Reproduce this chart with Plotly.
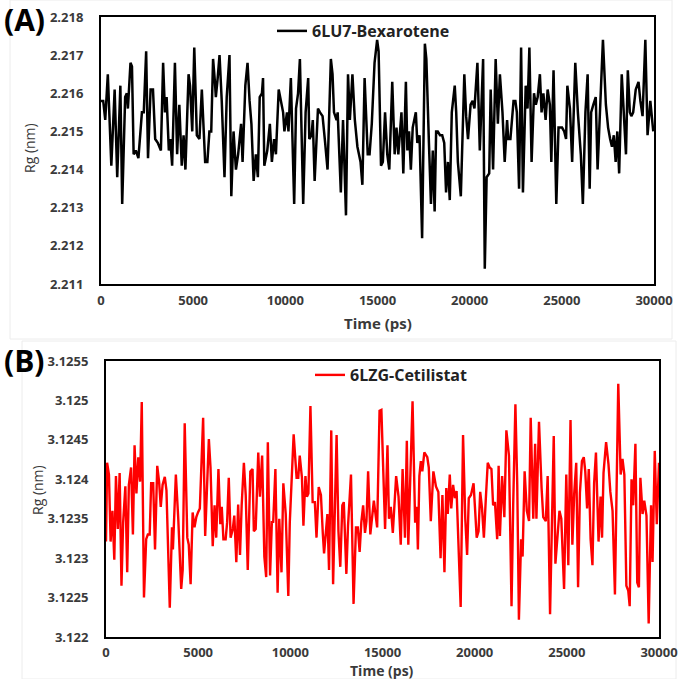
import plotly.graph_objects as go

# ---------------- Panel A : 6LU7-Bexarotene ----------------
time_a = [0, 120, 230, 370, 560, 740, 880, 1050, 1150, 1310, 1400, 1460, 1600, 1680, 1770, 1890, 2030, 2220, 2320,
          2450, 2550, 2690, 2820, 2940, 3080, 3250, 3370, 3470, 3560, 3680, 3760, 3860, 4010, 4130, 4250, 4380, 4480,
          4580, 4750, 4830, 4950, 5060, 5200, 5340, 5470, 5650, 5770, 5880, 5980, 6080, 6180, 6230, 6330, 6430, 6550,
          6700, 6820, 6970, 7070, 7190, 7320, 7440, 7600, 7680, 7830, 7950, 8060, 8160, 8280, 8400, 8510, 8610, 8730,
          8790, 8860, 9020, 9160, 9270, 9390, 9490, 9640, 9740, 9880, 9950, 10090, 10170, 10300, 10480, 10580, 10690,
          10790, 10970, 11100, 11240, 11300, 11420, 11490, 11590, 11770, 11880, 12020, 12160, 12290, 12470, 12560,
          12640, 12780, 12840, 12930, 13010, 13130, 13290, 13400, 13500, 13640, 13770, 13910, 14080, 14180, 14300,
          14470, 14570, 14690, 14840, 14980, 15060, 15190, 15290, 15410, 15530, 15640, 15800, 15930, 16030, 16130,
          16300, 16400, 16540, 16620, 16710, 16810, 16910, 17080, 17160, 17280, 17420, 17570, 17650, 17790, 17900,
          18000, 18100, 18180, 18270, 18390, 18510, 18620, 18720, 18820, 18920, 19030, 19190, 19270, 19360, 19520,
          19640, 19710, 19810, 19910, 20050, 20160, 20260, 20420, 20550, 20730, 20820, 20920, 21060, 21140, 21270,
          21410, 21530, 21640, 21780, 21900, 22030, 22090, 22210, 22380, 22480, 22560, 22680, 22790, 22890, 23040,
          23140, 23240, 23360, 23490, 23590, 23690, 23810, 23900, 24000, 24120, 24230, 24350, 24430, 24550, 24700,
          24820, 25010, 25130, 25230, 25300, 25440, 25560, 25730, 25870, 26030, 26140, 26280, 26400, 26510, 26590,
          26710, 26840, 26940, 27080, 27230, 27390, 27510, 27620, 27720, 27820, 27920, 28010, 28110, 28250, 28360,
          28480, 28580, 28690, 28770, 28870, 29010, 29160, 29260, 29380, 29530, 29650, 29800, 29960]
rg_a = [2.2158, 2.2158, 2.2153, 2.2165, 2.2141, 2.2161, 2.2138, 2.2162, 2.2131, 2.2159, 2.2160, 2.2156, 2.2168,
        2.2167, 2.2144, 2.2145, 2.2143, 2.2155, 2.2155, 2.2171, 2.2143, 2.2161, 2.2161, 2.2148, 2.2147, 2.2145,
        2.2168, 2.2155, 2.2159, 2.2145, 2.2148, 2.2141, 2.2168, 2.2144, 2.2157, 2.2141, 2.2149, 2.2140, 2.2165,
        2.2162, 2.2150, 2.2172, 2.2149, 2.2148, 2.2161, 2.2142, 2.2142, 2.2150, 2.2150, 2.2169, 2.2163, 2.2159,
        2.2164, 2.2170, 2.2158, 2.2138, 2.2159, 2.2170, 2.2133, 2.2150, 2.2140, 2.2144, 2.2152, 2.2142, 2.2162,
        2.2168, 2.2158, 2.2152, 2.2137, 2.2144, 2.2138, 2.2159, 2.2160, 2.2164, 2.2141, 2.2145, 2.2152, 2.2142,
        2.2148, 2.2144, 2.2161, 2.2158, 2.2155, 2.2150, 2.2155, 2.2150, 2.2164, 2.2131, 2.2156, 2.2160, 2.2169,
        2.2131, 2.2155, 2.2164, 2.2148, 2.2149, 2.2153, 2.2137, 2.2156, 2.2155, 2.2154, 2.2147, 2.2140, 2.2169,
        2.2165, 2.2155, 2.2153, 2.2155, 2.2142, 2.2134, 2.2153, 2.2128, 2.2165, 2.2153, 2.2165, 2.2153, 2.2146,
        2.2142, 2.2136, 2.2164, 2.2144, 2.2144, 2.2152, 2.2168, 2.2174, 2.2171, 2.2141, 2.2142, 2.2155, 2.2144,
        2.2140, 2.2163, 2.2144, 2.2151, 2.2144, 2.2155, 2.2139, 2.2163, 2.2145, 2.2150, 2.2140, 2.2151, 2.2155,
        2.2147, 2.2149, 2.2122, 2.2173, 2.2169, 2.2147, 2.2131, 2.2145, 2.2129, 2.2150, 2.2150, 2.2149, 2.2149,
        2.2147, 2.2134, 2.2142, 2.2132, 2.2155, 2.2162, 2.2155, 2.2142, 2.2133, 2.2152, 2.2165, 2.2154, 2.2148,
        2.2157, 2.2158, 2.2156, 2.2168, 2.2145, 2.2169, 2.2114, 2.2138, 2.2139, 2.2161, 2.2140, 2.2169, 2.2152,
        2.2165, 2.2155, 2.2142, 2.2153, 2.2148, 2.2148, 2.2158, 2.2158, 2.2155, 2.2135, 2.2172, 2.2134, 2.2162,
        2.2156, 2.2172, 2.2142, 2.2160, 2.2157, 2.2159, 2.2165, 2.2155, 2.2160, 2.2153, 2.2161, 2.2157, 2.2142,
        2.2166, 2.2131, 2.2151, 2.2151, 2.2150, 2.2148, 2.2162, 2.2156, 2.2142, 2.2168, 2.2155, 2.2144, 2.2131,
        2.2155, 2.2165, 2.2135, 2.2155, 2.2157, 2.2159, 2.2140, 2.2158, 2.2174, 2.2157, 2.2151, 2.2148, 2.2146,
        2.2149, 2.2142, 2.2150, 2.2139, 2.2165, 2.2154, 2.2144, 2.2166, 2.2155, 2.2154, 2.2155, 2.2161, 2.2163,
        2.2158, 2.2154, 2.2174, 2.2149, 2.2158, 2.2150]

# ---------------- Panel B : 6LZG-Cetilistat ----------------
time_b = [0, 60, 160, 250, 350, 450, 540, 640, 740, 840, 930, 1050, 1150, 1240, 1360, 1460, 1550, 1650, 1750, 1850,
          1940, 2060, 2180, 2270, 2370, 2450, 2560, 2660, 2780, 2880, 2970, 3070, 3190, 3280, 3460, 3580, 3630, 3790,
          3920, 4080, 4160, 4270, 4410, 4490, 4590, 4700, 4800, 4900, 4990, 5090, 5270, 5380, 5580, 5670, 5790, 5890,
          5980, 6100, 6200, 6280, 6370, 6490, 6570, 6660, 6760, 6880, 6960, 7070, 7170, 7270, 7360, 7480, 7580, 7690,
          7830, 7950, 8020, 8120, 8260, 8350, 8470, 8590, 8690, 8780, 8900, 9000, 9070, 9190, 9310, 9400, 9520, 9620,
          9750, 9890, 9970, 10070, 10180, 10340, 10430, 10510, 10630, 10710, 10820, 10900, 10980, 11090, 11210, 11330,
          11420, 11540, 11660, 11760, 11830, 11910, 12010, 12100, 12220, 12320, 12420, 12510, 12610, 12710, 12820,
          12900, 13040, 13130, 13290, 13430, 13560, 13660, 13760, 13850, 13950, 14050, 14130, 14220, 14340, 14420,
          14530, 14710, 14840, 14940, 15040, 15140, 15270, 15350, 15450, 15560, 15740, 15870, 15990, 16090, 16220,
          16320, 16400, 16480, 16630, 16770, 16860, 16920, 17000, 17080, 17160, 17270, 17430, 17510, 17620, 17760,
          17900, 18030, 18150, 18250, 18360, 18460, 18540, 18650, 18730, 18830, 18930, 19020, 19100, 19240, 19370,
          19490, 19590, 19680, 19800, 19940, 20010, 20110, 20210, 20300, 20400, 20500, 20600, 20710, 20810, 20910,
          21000, 21100, 21220, 21300, 21370, 21490, 21610, 21720, 21860, 22000, 22090, 22210, 22310, 22400, 22520,
          22600, 22710, 22830, 22950, 23040, 23180, 23280, 23350, 23490, 23630, 23720, 23860, 23960, 24090, 24190,
          24290, 24380, 24480, 24600, 24700, 24850, 24970, 25080, 25200, 25300, 25400, 25510, 25610, 25710, 25820,
          25920, 26000, 26100, 26190, 26290, 26390, 26480, 26580, 26720, 26830, 26910, 26990, 27130, 27260, 27360,
          27480, 27610, 27790, 27920, 28020, 28120, 28230, 28330, 28410, 28510, 28600, 28720, 28820, 28910, 28990,
          29110, 29200, 29320, 29440, 29570, 29650, 29770, 29880, 30000]
rg_b = [3.12321, 3.12421, 3.12406, 3.12321, 3.12360, 3.12298, 3.12404, 3.12337, 3.12408, 3.12265, 3.12345, 3.12391,
        3.12282, 3.12393, 3.12415, 3.12330, 3.12443, 3.12382, 3.12428, 3.12397, 3.12498, 3.12250, 3.12324, 3.12330,
        3.12330, 3.12395, 3.12395, 3.12311, 3.12417, 3.12397, 3.12365, 3.12393, 3.12403, 3.12386, 3.12237, 3.12339,
        3.12311, 3.12406, 3.12350, 3.12261, 3.12285, 3.12471, 3.12326, 3.12317, 3.12267, 3.12358, 3.12339, 3.12352,
        3.12358, 3.12363, 3.12478, 3.12328, 3.12451, 3.12415, 3.12315, 3.12367, 3.12326, 3.12413, 3.12343, 3.12365,
        3.12324, 3.12324, 3.12345, 3.12402, 3.12326, 3.12337, 3.12354, 3.12295, 3.12368, 3.12304, 3.12367, 3.12421,
        3.12380, 3.12285, 3.12410, 3.12413, 3.12334, 3.12337, 3.12434, 3.12378, 3.12430, 3.12302, 3.12276, 3.12447,
        3.12278, 3.12347, 3.12345, 3.12413, 3.12256, 3.12350, 3.12282, 3.12395, 3.12356, 3.12252, 3.12345, 3.12410,
        3.12457, 3.12402, 3.12402, 3.12430, 3.12402, 3.12341, 3.12404, 3.12378, 3.12382, 3.12493, 3.12371, 3.12371,
        3.12326, 3.12390, 3.12380, 3.12332, 3.12306, 3.12328, 3.12356, 3.12285, 3.12462, 3.12267, 3.12369, 3.12456,
        3.12334, 3.12289, 3.12367, 3.12371, 3.12280, 3.12341, 3.12406, 3.12242, 3.12339, 3.12339, 3.12308, 3.12345,
        3.12367, 3.12332, 3.12347, 3.12410, 3.12330, 3.12345, 3.12373, 3.12339, 3.12487, 3.12488, 3.12404, 3.12337,
        3.12443, 3.12350, 3.12365, 3.12332, 3.12404, 3.12378, 3.12317, 3.12413, 3.12326, 3.12449, 3.12317, 3.12384,
        3.12499, 3.12345, 3.12365, 3.12311, 3.12404, 3.12423, 3.12410, 3.12434, 3.12428, 3.12415, 3.12347, 3.12410,
        3.12391, 3.12384, 3.12300, 3.12380, 3.12282, 3.12389, 3.12356, 3.12406, 3.12363, 3.12393, 3.12376, 3.12385,
        3.12337, 3.12238, 3.12456, 3.12350, 3.12304, 3.12376, 3.12380, 3.12395, 3.12367, 3.12326, 3.12334, 3.12384,
        3.12363, 3.12326, 3.12373, 3.12421, 3.12415, 3.12413, 3.12367, 3.12371, 3.12324, 3.12417, 3.12328, 3.12404,
        3.12352, 3.12462, 3.12430, 3.12239, 3.12367, 3.12495, 3.12393, 3.12222, 3.12324, 3.12302, 3.12410, 3.12360,
        3.12347, 3.12478, 3.12350, 3.12445, 3.12350, 3.12473, 3.12389, 3.12352, 3.12347, 3.12404, 3.12229, 3.12337,
        3.12455, 3.12293, 3.12326, 3.12360, 3.12350, 3.12261, 3.12406, 3.12291, 3.12475, 3.12317, 3.12382, 3.12421,
        3.12263, 3.12383, 3.12423, 3.12428, 3.12410, 3.12363, 3.12413, 3.12324, 3.12291, 3.12395, 3.12434, 3.12321,
        3.12378, 3.12326, 3.12408, 3.12447, 3.12419, 3.12384, 3.12360, 3.12254, 3.12521, 3.12406, 3.12426, 3.12406,
        3.12265, 3.12259, 3.12239, 3.12400, 3.12367, 3.12445, 3.12269, 3.12263, 3.12402, 3.12356, 3.12373, 3.12354,
        3.12217, 3.12367, 3.12295, 3.12436, 3.12343, 3.12421]

x_ticks = [0, 5000, 10000, 15000, 20000, 25000, 30000]
x_ticktext = ["0", "5000", "10000", "15000", "20000", "25000", "30000"]
y_ticks_a = [2.211, 2.212, 2.213, 2.214, 2.215, 2.216, 2.217, 2.218]
y_ticktext_a = ["2.211", "2.212", "2.213", "2.214", "2.215", "2.216", "2.217", "2.218"]
y_ticks_b = [3.122, 3.1225, 3.123, 3.1235, 3.124, 3.1245, 3.125, 3.1255]
y_ticktext_b = ["3.122", "3.1225", "3.123", "3.1235", "3.124", "3.1245", "3.125", "3.1255"]

W, H = 684, 679
FONT = "Open Sans"
TICK_COLOR = "#3a3a3a"

fig = go.Figure()
fig.add_trace(go.Scatter(x=time_a, y=rg_a, mode="lines", name="6LU7-Bexarotene",
                         line=dict(color="black", width=2.5), xaxis="x", yaxis="y", legend="legend"))
fig.add_trace(go.Scatter(x=time_b, y=rg_b, mode="lines", name="6LZG-Cetilistat",
                         line=dict(color="#ff0000", width=2.4), xaxis="x2", yaxis="y2", legend="legend2"))

axis_common = dict(showgrid=False, zeroline=False, showline=True, linecolor="black", linewidth=2,
                   mirror=True, ticks="", automargin=False,
                   tickfont=dict(family=FONT, size=13, color=TICK_COLOR, weight="bold"))

# plot-area boxes in pixels
ax_l, ax_r, ax_t, ax_b = 101, 654, 17, 284
bx_l, bx_r, bx_t, bx_b = 106, 659, 361, 637

fig.update_layout(
    width=W, height=H, margin=dict(l=0, r=0, t=0, b=0, autoexpand=False),
    paper_bgcolor="white", plot_bgcolor="white",
    xaxis=dict(domain=[ax_l / W, ax_r / W], range=[0, 30000], tickvals=x_ticks, ticktext=x_ticktext,
               anchor="y", ticklabelstandoff=3, **axis_common),
    yaxis=dict(domain=[1 - ax_b / H, 1 - ax_t / H], range=[2.211, 2.218], tickvals=y_ticks_a,
               ticktext=y_ticktext_a, anchor="x", ticklabelstandoff=13, **axis_common),
    xaxis2=dict(domain=[bx_l / W, bx_r / W], range=[0, 30000], tickvals=x_ticks, ticktext=x_ticktext,
                anchor="y2", ticklabelstandoff=2, **axis_common),
    yaxis2=dict(domain=[1 - bx_b / H, 1 - bx_t / H], range=[3.122, 3.1255], tickvals=y_ticks_b,
                ticktext=y_ticktext_b, anchor="x2", ticklabelstandoff=13, **axis_common),
    legend=dict(x=272 / W, y=1 - 31 / H, xanchor="left", yanchor="middle",
                bgcolor="rgba(0,0,0,0)", font=dict(family=FONT, size=16, color="#222222", weight="bold"),
                itemwidth=30),
    legend2=dict(x=310 / W, y=1 - 375 / H, xanchor="left", yanchor="middle",
                 bgcolor="rgba(0,0,0,0)", font=dict(family=FONT, size=16, color="#222222", weight="bold"),
                 itemwidth=30),
    showlegend=True,
)

# axis titles
for txt, xx, yy, ang, bold, size in [
    ("Rg (nm)", 29, 148, -90, False, 14),
    ("Time (ps)", 378, 323, 0, True, 15),
    ("Rg (nm)", 37, 490, -90, False, 14),
    ("Time (ps)", 382, 670, 0, True, 14),
]:
    fig.add_annotation(text=txt, x=xx / W, y=1 - yy / H, xref="paper", yref="paper", xanchor="center",
                       yanchor="middle", showarrow=False, textangle=ang,
                       font=dict(family=FONT, size=size, color=TICK_COLOR, weight="bold" if bold else "normal"))

# panel letters
fig.add_annotation(text="<b>(A)</b>", x=2 / W, y=1 - 19 / H, xref="paper", yref="paper", xanchor="left",
                   yanchor="middle", showarrow=False, font=dict(family=FONT, size=30, color="black"))
fig.add_annotation(text="<b>(B)</b>", x=2 / W, y=1 - 360 / H, xref="paper", yref="paper", xanchor="left",
                   yanchor="middle", showarrow=False, font=dict(family=FONT, size=30, color="black"))

# faint frames of the two original image panels
fig.add_shape(type="rect", xref="paper", yref="paper", x0=10 / W, x1=672 / W, y0=1 - 339 / H, y1=1.0,
              line=dict(color="#ececec", width=1), fillcolor="rgba(0,0,0,0)", layer="below")
fig.add_shape(type="rect", xref="paper", yref="paper", x0=22 / W, x1=676 / W, y0=0.0, y1=1 - 341 / H,
              line=dict(color="#ececec", width=1), fillcolor="rgba(0,0,0,0)", layer="below")

fig.write_html("out.html", config={"displayModeBar": False},
               post_script="document.body.style.margin='0';document.body.style.overflow='hidden';")
